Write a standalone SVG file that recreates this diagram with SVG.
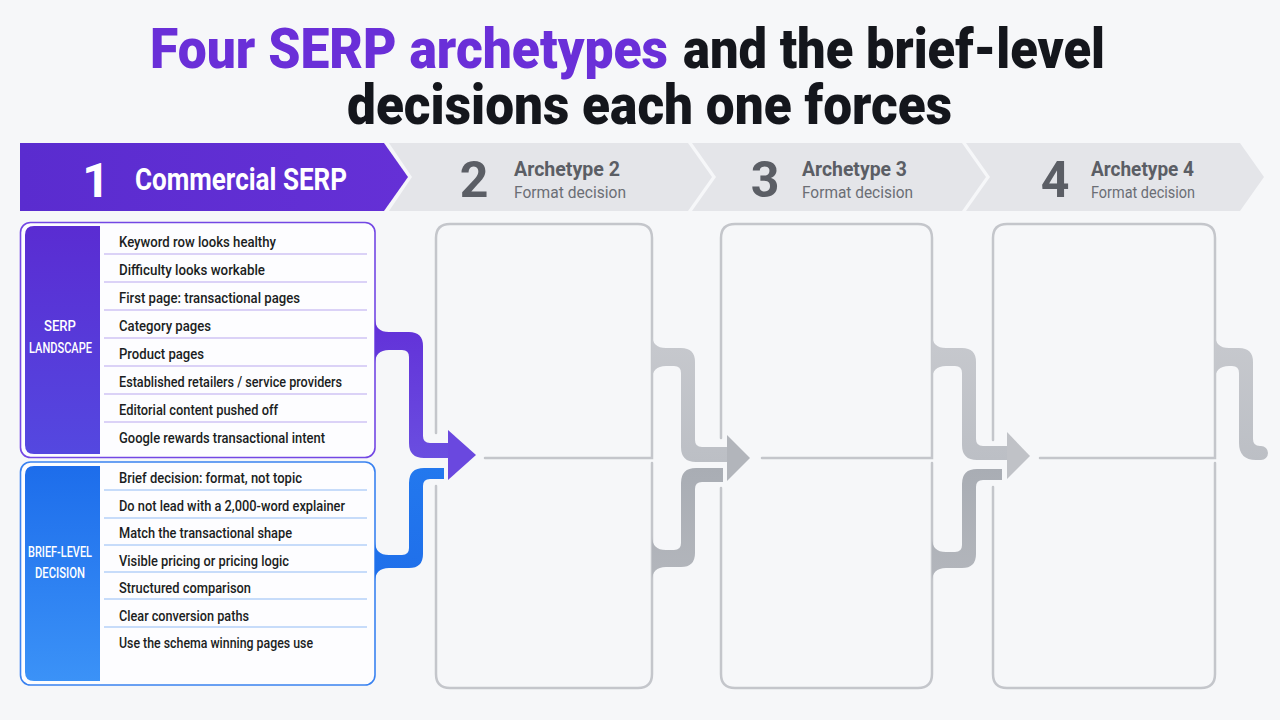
<svg xmlns="http://www.w3.org/2000/svg" width="1280" height="720" viewBox="0 0 1280 720">
<defs>
<linearGradient id="gPurple" x1="0" y1="0" x2="0" y2="1"><stop offset="0" stop-color="#5a2cd2"/><stop offset="1" stop-color="#5448e0"/></linearGradient>
<linearGradient id="gBlue" x1="0" y1="0" x2="0" y2="1"><stop offset="0" stop-color="#1d6deb"/><stop offset="1" stop-color="#3b92f7"/></linearGradient>
<linearGradient id="gStep1" x1="0" y1="0" x2="1" y2="0"><stop offset="0" stop-color="#5a2ccf"/><stop offset="1" stop-color="#6530d6"/></linearGradient>
<linearGradient id="gBandP" x1="0" y1="0" x2="0" y2="1"><stop offset="0" stop-color="#6230d8"/><stop offset="1" stop-color="#6a4ee0"/></linearGradient>
<linearGradient id="gBandB" x1="0" y1="0" x2="0" y2="1"><stop offset="0" stop-color="#2378ee"/><stop offset="1" stop-color="#1f6fea"/></linearGradient>
<linearGradient id="gGrayT" x1="0" y1="0" x2="0" y2="1"><stop offset="0" stop-color="#c7c9ce"/><stop offset="1" stop-color="#bcbfc5"/></linearGradient>
<linearGradient id="gGrayB" x1="0" y1="0" x2="0" y2="1"><stop offset="0" stop-color="#a9adb4"/><stop offset="1" stop-color="#b3b6bc"/></linearGradient>
</defs>
<style>
.title{font-family:Roboto,"Liberation Sans",sans-serif;font-weight:900;font-size:55px}
.row{font-family:Roboto,"Liberation Sans",sans-serif;font-size:15px;fill:#1b1d22;font-weight:500}
.bar{font-family:Roboto,"Liberation Sans",sans-serif;font-size:15px;fill:#ffffff;font-weight:500}
.num{font-family:Roboto,"Liberation Sans",sans-serif;font-weight:700;font-size:50px;fill:#5b5e65;text-anchor:middle}
.arch{font-family:Roboto,"Liberation Sans",sans-serif;font-weight:700;font-size:20px;fill:#5b5e65}
.fmt{font-family:Roboto,"Liberation Sans",sans-serif;font-size:17px;fill:#6b6e75}
.ghost{fill:none;stroke:#c4c6cb;stroke-width:2.5;stroke-linecap:round}
.sepP{stroke:#b9a7ef;stroke-width:1.2}
.sepB{stroke:#92bbf6;stroke-width:1.2}
.step{fill:#e4e5e9}
</style>
<rect width="1280" height="720" fill="#f6f7f9"/>

<g id="title">
<text class="title"><tspan x="150" y="68" fill="#6a2fd8" textLength="518" lengthAdjust="spacingAndGlyphs">Four SERP archetypes</tspan><tspan x="683" y="68" fill="#14161c" textLength="422" lengthAdjust="spacingAndGlyphs">and the brief-level</tspan><tspan x="347" y="124" fill="#14161c" textLength="605" lengthAdjust="spacingAndGlyphs">decisions each one forces</tspan></text>
</g>

<g id="step-1">
<polygon points="20,143 384,143 408,177 384,211 20,211" fill="url(#gStep1)"/>
<text x="96" y="197" font-family="Roboto,'Liberation Sans',sans-serif" font-weight="700" font-size="48" fill="#ffffff" text-anchor="middle">1</text>
<text x="135" y="190" font-family="Roboto,'Liberation Sans',sans-serif" font-weight="700" font-size="31" fill="#ffffff" textLength="212" lengthAdjust="spacingAndGlyphs">Commercial SERP</text>
</g>
<g id="step-2">
<polygon class="step" points="389,143 688,143 712,177 688,211 389,211 412,177"/>
<text class="num" x="474" y="197">2</text>
<text class="arch" x="514" y="176" textLength="106" lengthAdjust="spacingAndGlyphs">Archetype 2</text>
<text class="fmt" x="514" y="198" textLength="112" lengthAdjust="spacingAndGlyphs">Format decision</text>
</g>
<g id="step-3">
<polygon class="step" points="692,143 962,143 986,177 962,211 692,211 716,177"/>
<text class="num" x="765" y="197">3</text>
<text class="arch" x="802" y="176" textLength="105" lengthAdjust="spacingAndGlyphs">Archetype 3</text>
<text class="fmt" x="802" y="198" textLength="111" lengthAdjust="spacingAndGlyphs">Format decision</text>
</g>
<g id="step-4">
<polygon class="step" points="966,143 1240,143 1264,177 1240,211 966,211 990,177"/>
<text class="num" x="1055" y="197">4</text>
<text class="arch" x="1091" y="176" textLength="103" lengthAdjust="spacingAndGlyphs">Archetype 4</text>
<text class="fmt" x="1091" y="198" textLength="104" lengthAdjust="spacingAndGlyphs">Format decision</text>
</g>

<g id="panel-serp-landscape">
<rect x="20.5" y="222.5" width="354.5" height="235" rx="10" fill="#fdfdff" stroke="#7347e4" stroke-width="1.6"/>
<path d="M34,226 H100 V454 H34 Q25,454 25,445 V235 Q25,226 34,226 Z" fill="url(#gPurple)"/>
<text class="bar" x="44" y="331" textLength="32" lengthAdjust="spacingAndGlyphs">SERP</text>
<text class="bar" x="29" y="353" textLength="63" lengthAdjust="spacingAndGlyphs">LANDSCAPE</text>
<g>
<line class="sepP" x1="104" y1="254" x2="367" y2="254"/>
<line class="sepP" x1="104" y1="282" x2="367" y2="282"/>
<line class="sepP" x1="104" y1="310" x2="367" y2="310"/>
<line class="sepP" x1="104" y1="338" x2="367" y2="338"/>
<line class="sepP" x1="104" y1="366" x2="367" y2="366"/>
<line class="sepP" x1="104" y1="394" x2="367" y2="394"/>
<line class="sepP" x1="104" y1="422" x2="367" y2="422"/>
</g>
<text class="row" x="119" y="247" textLength="157" lengthAdjust="spacingAndGlyphs">Keyword row looks healthy</text>
<text class="row" x="119" y="275" textLength="146" lengthAdjust="spacingAndGlyphs">Difficulty looks workable</text>
<text class="row" x="119" y="303" textLength="181" lengthAdjust="spacingAndGlyphs">First page: transactional pages</text>
<text class="row" x="119" y="331" textLength="92" lengthAdjust="spacingAndGlyphs">Category pages</text>
<text class="row" x="119" y="359" textLength="85" lengthAdjust="spacingAndGlyphs">Product pages</text>
<text class="row" x="119" y="387" textLength="223" lengthAdjust="spacingAndGlyphs">Established retailers / service providers</text>
<text class="row" x="119" y="415" textLength="159" lengthAdjust="spacingAndGlyphs">Editorial content pushed off</text>
<text class="row" x="119" y="443" textLength="206" lengthAdjust="spacingAndGlyphs">Google rewards transactional intent</text>
</g>

<g id="panel-brief-level-decision">
<rect x="20.5" y="462" width="354.5" height="223" rx="10" fill="#fdfdff" stroke="#3a82f0" stroke-width="1.6"/>
<path d="M34,466 H100 V681 H34 Q25,681 25,672 V475 Q25,466 34,466 Z" fill="url(#gBlue)"/>
<text class="bar" x="28" y="557" textLength="64" lengthAdjust="spacingAndGlyphs">BRIEF-LEVEL</text>
<text class="bar" x="35" y="578" textLength="50" lengthAdjust="spacingAndGlyphs">DECISION</text>
<g>
<line class="sepB" x1="104" y1="490" x2="367" y2="490"/>
<line class="sepB" x1="104" y1="518" x2="367" y2="518"/>
<line class="sepB" x1="104" y1="545" x2="367" y2="545"/>
<line class="sepB" x1="104" y1="572" x2="367" y2="572"/>
<line class="sepB" x1="104" y1="599" x2="367" y2="599"/>
<line class="sepB" x1="104" y1="627" x2="367" y2="627"/>
</g>
<text class="row" x="119" y="483" textLength="183" lengthAdjust="spacingAndGlyphs">Brief decision: format, not topic</text>
<text class="row" x="119" y="511" textLength="226" lengthAdjust="spacingAndGlyphs">Do not lead with a 2,000-word explainer</text>
<text class="row" x="119" y="538" textLength="173" lengthAdjust="spacingAndGlyphs">Match the transactional shape</text>
<text class="row" x="119" y="566" textLength="170" lengthAdjust="spacingAndGlyphs">Visible pricing or pricing logic</text>
<text class="row" x="119" y="593" textLength="132" lengthAdjust="spacingAndGlyphs">Structured comparison</text>
<text class="row" x="119" y="621" textLength="130" lengthAdjust="spacingAndGlyphs">Clear conversion paths</text>
<text class="row" x="119" y="648" textLength="194" lengthAdjust="spacingAndGlyphs">Use the schema winning pages use</text>
</g>

<g id="ghost-2">
<path class="ghost" d="M436,433 V238 Q436,224 450,224 H638 Q652,224 652,238 V458 H485"/>
<path class="ghost" d="M652,463 V674 Q652,688 638,688 H450 Q436,688 436,674 V486"/>
</g>
<g id="ghost-3">
<path class="ghost" d="M721,438 V238 Q721,224 735,224 H918 Q932,224 932,238 V458 H762"/>
<path class="ghost" d="M932,463 V674 Q932,688 918,688 H735 Q721,688 721,674 V488"/>
</g>
<g id="ghost-4">
<path class="ghost" d="M993,440 V238 Q993,224 1007,224 H1201 Q1215,224 1215,238 V458 H1040"/>
<path class="ghost" d="M1215,463 V674 Q1215,688 1201,688 H1007 Q993,688 993,674 V487"/>
</g>

<g id="connectors">
<path d="M375,318 Q375,332 389,332 H409 Q423,332 423,346 V436 Q423,443 430,443 H449 V458 H424 Q409,458 409,443 V357 Q409,350 402,350 H389 Q375,350 375,364 Z" fill="url(#gBandP)"/>
<path d="M444,468 H424 Q409,468 409,483 V548 Q409,555 402,555 H389 Q375,555 375,541 V582 Q375,568 389,568 H409 Q423,568 423,554 V486 Q423,479 430,479 H444 Z" fill="url(#gBandB)"/>
<polygon points="448,430 476,455 448,480" fill="#6a48df"/>

<path d="M652,334 Q652,348 666,348 H681 Q695,348 695,362 V440 Q695,447 702,447 H727 V462 H696 Q681,462 681,447 V373 Q681,366 674,366 H666 Q652,366 652,380 Z" fill="url(#gGrayT)"/>
<path d="M723,468 H696 Q681,468 681,483 V543 Q681,550 674,550 H666 Q652,550 652,536 V581 Q652,567 666,567 H681 Q695,567 695,553 V489 Q695,482 702,482 H723 Z" fill="url(#gGrayB)"/>
<polygon points="727,435 750,458 727,481" fill="#b2b5bb"/>

<path d="M932,334 Q932,348 946,348 H962 Q976,348 976,362 V439 Q976,446 983,446 H1007 V460 H977 Q962,460 962,445 V373 Q962,366 955,366 H946 Q932,366 932,380 Z" fill="url(#gGrayT)"/>
<path d="M1002,469 H977 Q962,469 962,484 V545 Q962,552 955,552 H946 Q932,552 932,538 V582 Q932,568 946,568 H962 Q976,568 976,554 V487 Q976,480 983,480 H1002 Z" fill="url(#gGrayB)"/>
<polygon points="1007,432 1030,456 1007,479" fill="#c0c2c7"/>

<path d="M1215,334 Q1215,348 1229,348 H1239 Q1253,348 1253,362 V439 Q1253,446 1260,446 H1261 A7,7 0 0 1 1261,460 H1256 Q1239,460 1239,443 V373 Q1239,366 1232,366 H1229 Q1215,366 1215,380 Z" fill="url(#gGrayT)"/>
</g>
</svg>
